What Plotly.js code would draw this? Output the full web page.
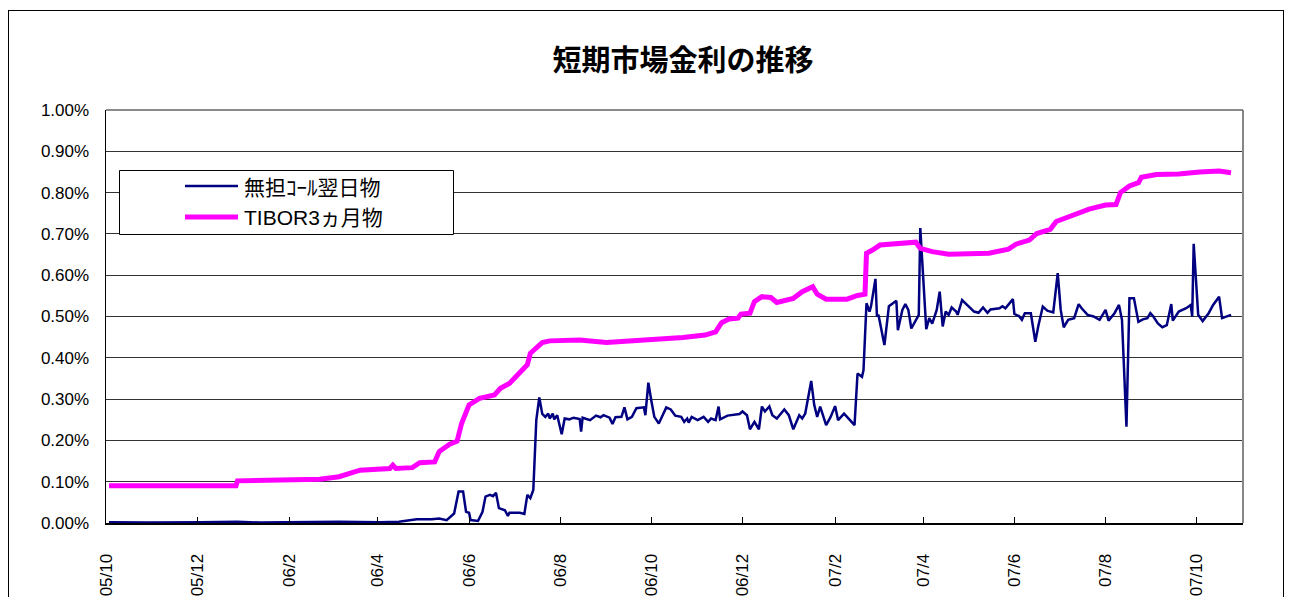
<!DOCTYPE html>
<html>
<head>
<meta charset="utf-8">
<script src="https://cdn.plot.ly/plotly-3.0.1.min.js"></script>
<style>
  html, body { margin: 0; padding: 0; background: #fff; overflow: hidden; }
  #chart { position: absolute; left: 0; top: 0; width: 1292px; height: 597px; }
  #frame { position: absolute; left: 8px; top: 10px; width: 1276px; height: 640px; border: 1px solid #000; pointer-events: none; box-sizing: border-box; }
</style>
</head>
<body>
<div id="chart"></div>
<div id="frame"></div>
<script>
const chartTitle = "短期市場金利の推移";
const seriesNames = ["無担ｺｰﾙ翌日物", "TIBOR3ヵ月物"];

const tickDates = ["2005-10-01","2005-12-01","2006-02-01","2006-04-01","2006-06-01","2006-08-01","2006-10-01","2006-12-01","2007-02-01","2007-04-01","2007-06-01","2007-08-01","2007-10-01"];
const tickLabels = ["05/10","05/12","06/2","06/4","06/6","06/8","06/10","06/12","07/2","07/4","07/6","07/8","07/10"];

const yTicks = [0,0.1,0.2,0.3,0.4,0.5,0.6,0.7,0.8,0.9,1.0];
const yTickLabels = ["0.00%","0.10%","0.20%","0.30%","0.40%","0.50%","0.60%","0.70%","0.80%","0.90%","1.00%"];

const tiborDates = ["2005-10-03","2005-12-27","2005-12-28","2006-01-25","2006-02-21","2006-03-06","2006-03-20","2006-04-09","2006-04-11","2006-04-13","2006-04-24","2006-04-29","2006-05-09","2006-05-12","2006-05-19","2006-05-24","2006-05-27","2006-06-01","2006-06-08","2006-06-18","2006-06-22","2006-06-28","2006-07-05","2006-07-10","2006-07-12","2006-07-16","2006-07-20","2006-07-25","2006-08-14","2006-09-01","2006-09-23","2006-10-15","2006-10-22","2006-11-06","2006-11-13","2006-11-17","2006-11-22","2006-11-28","2006-11-30","2006-12-06","2006-12-09","2006-12-14","2006-12-20","2006-12-24","2006-12-28","2007-01-04","2007-01-10","2007-01-17","2007-01-20","2007-01-26","2007-02-09","2007-02-16","2007-02-21","2007-02-22","2007-02-26","2007-03-03","2007-03-27","2007-03-30","2007-04-07","2007-04-18","2007-05-15","2007-05-28","2007-06-02","2007-06-11","2007-06-16","2007-06-25","2007-06-29","2007-07-10","2007-07-21","2007-08-01","2007-08-08","2007-08-11","2007-08-17","2007-08-23","2007-08-25","2007-09-04","2007-09-19","2007-10-03","2007-10-16","2007-10-24"];
const tiborValues = [0.090,0.090,0.102,0.104,0.106,0.112,0.128,0.132,0.140,0.132,0.134,0.146,0.148,0.173,0.191,0.198,0.241,0.286,0.302,0.310,0.326,0.338,0.362,0.383,0.411,0.423,0.437,0.441,0.443,0.437,0.441,0.445,0.449,0.455,0.463,0.485,0.494,0.496,0.506,0.508,0.536,0.548,0.546,0.534,0.538,0.544,0.560,0.572,0.554,0.542,0.542,0.551,0.554,0.653,0.661,0.673,0.680,0.665,0.657,0.651,0.653,0.663,0.675,0.685,0.701,0.711,0.730,0.746,0.760,0.770,0.771,0.800,0.816,0.824,0.837,0.844,0.845,0.850,0.852,0.848];

const callDates = ["2005-10-03","2005-10-30","2005-12-03","2005-12-28","2006-01-12","2006-02-07","2006-03-06","2006-04-02","2006-04-15","2006-04-27","2006-05-07","2006-05-12","2006-05-17","2006-05-22","2006-05-25","2006-05-28","2006-05-30","2006-06-01","2006-06-02","2006-06-07","2006-06-10","2006-06-12","2006-06-15","2006-06-17","2006-06-19","2006-06-21","2006-06-25","2006-06-27","2006-06-28","2006-07-05","2006-07-08","2006-07-10","2006-07-12","2006-07-14","2006-07-16","2006-07-18","2006-07-20","2006-07-22","2006-07-24","2006-07-25","2006-07-27","2006-07-28","2006-07-30","2006-08-02","2006-08-04","2006-08-07","2006-08-10","2006-08-14","2006-08-15","2006-08-16","2006-08-21","2006-08-25","2006-08-28","2006-08-30","2006-09-03","2006-09-05","2006-09-07","2006-09-11","2006-09-13","2006-09-15","2006-09-18","2006-09-21","2006-09-26","2006-09-27","2006-09-29","2006-10-01","2006-10-03","2006-10-06","2006-10-11","2006-10-14","2006-10-17","2006-10-21","2006-10-23","2006-10-25","2006-10-26","2006-10-28","2006-11-01","2006-11-05","2006-11-08","2006-11-10","2006-11-13","2006-11-15","2006-11-16","2006-11-21","2006-11-29","2006-12-01","2006-12-04","2006-12-06","2006-12-09","2006-12-12","2006-12-14","2006-12-16","2006-12-19","2006-12-21","2006-12-24","2006-12-29","2007-01-01","2007-01-04","2007-01-08","2007-01-10","2007-01-12","2007-01-16","2007-01-18","2007-01-20","2007-01-22","2007-01-26","2007-01-29","2007-02-01","2007-02-03","2007-02-07","2007-02-13","2007-02-14","2007-02-16","2007-02-19","2007-02-20","2007-02-22","2007-02-24","2007-02-25","2007-02-28","2007-03-01","2007-03-02","2007-03-06","2007-03-09","2007-03-14","2007-03-15","2007-03-18","2007-03-20","2007-03-22","2007-03-24","2007-03-27","2007-03-29","2007-03-30","2007-04-03","2007-04-05","2007-04-07","2007-04-10","2007-04-12","2007-04-14","2007-04-16","2007-04-18","2007-04-20","2007-04-23","2007-04-24","2007-04-27","2007-05-03","2007-05-05","2007-05-08","2007-05-11","2007-05-14","2007-05-16","2007-05-22","2007-05-24","2007-05-26","2007-05-31","2007-06-01","2007-06-04","2007-06-06","2007-06-08","2007-06-12","2007-06-15","2007-06-17","2007-06-20","2007-06-23","2007-06-27","2007-06-30","2007-07-02","2007-07-04","2007-07-07","2007-07-11","2007-07-14","2007-07-16","2007-07-20","2007-07-24","2007-07-28","2007-08-01","2007-08-03","2007-08-07","2007-08-10","2007-08-12","2007-08-15","2007-08-17","2007-08-20","2007-08-23","2007-08-26","2007-08-29","2007-08-31","2007-09-02","2007-09-05","2007-09-08","2007-09-11","2007-09-14","2007-09-15","2007-09-19","2007-09-24","2007-09-27","2007-09-28","2007-09-29","2007-10-02","2007-10-05","2007-10-09","2007-10-12","2007-10-16","2007-10-18","2007-10-22","2007-10-24"];
const callValues = [0.002,0.001,0.002,0.003,0.001,0.002,0.003,0.002,0.003,0.009,0.009,0.011,0.007,0.023,0.076,0.076,0.027,0.025,0.007,0.005,0.027,0.064,0.068,0.065,0.073,0.036,0.031,0.017,0.025,0.025,0.022,0.068,0.060,0.080,0.249,0.304,0.264,0.257,0.265,0.253,0.265,0.251,0.261,0.215,0.253,0.251,0.255,0.252,0.221,0.255,0.249,0.260,0.256,0.261,0.255,0.240,0.256,0.257,0.280,0.251,0.257,0.278,0.280,0.261,0.340,0.296,0.257,0.241,0.280,0.275,0.260,0.257,0.245,0.253,0.243,0.257,0.249,0.257,0.245,0.253,0.249,0.282,0.251,0.260,0.264,0.270,0.261,0.227,0.245,0.227,0.282,0.270,0.282,0.261,0.253,0.275,0.261,0.227,0.261,0.253,0.265,0.344,0.286,0.257,0.282,0.237,0.257,0.283,0.249,0.265,0.241,0.237,0.362,0.354,0.370,0.532,0.512,0.524,0.591,0.500,0.504,0.431,0.525,0.538,0.467,0.516,0.530,0.516,0.471,0.492,0.504,0.714,0.469,0.496,0.483,0.516,0.560,0.476,0.512,0.504,0.522,0.512,0.504,0.540,0.520,0.512,0.509,0.522,0.509,0.517,0.520,0.525,0.520,0.542,0.506,0.501,0.492,0.508,0.508,0.439,0.477,0.524,0.514,0.510,0.605,0.516,0.474,0.492,0.496,0.530,0.520,0.504,0.500,0.492,0.516,0.490,0.508,0.528,0.492,0.233,0.544,0.544,0.487,0.493,0.496,0.508,0.500,0.483,0.474,0.479,0.530,0.490,0.512,0.520,0.528,0.500,0.676,0.504,0.489,0.508,0.528,0.548,0.496,0.501,0.504];

const navy = "#000080";
const magenta = "#FF00FF";

// plot-area geometry (pixels)
const L = 106, T = 110, W = 1137, H = 413;
const fx = p => (p - L) / W;
const fy = p => (T + H - p) / H;

const txtFont = "Liberation Sans, Arial, Noto Sans CJK JP, sans-serif";
const jpFont = "Noto Sans CJK JP, Liberation Sans, sans-serif";

const traces = [
  { x: callDates, y: callValues, type: "scatter", mode: "lines", name: seriesNames[0],
    line: { color: navy, width: 2.5 }, showlegend: false },
  { x: tiborDates, y: tiborValues, type: "scatter", mode: "lines", name: seriesNames[1],
    line: { color: magenta, width: 5 }, showlegend: false }
];

const layout = {
  width: 1292, height: 597,
  margin: { l: L, r: 1292 - L - W, t: T, b: 597 - T - H, pad: 0 },
  paper_bgcolor: "rgba(0,0,0,0)",
  plot_bgcolor: "#fff",
  showlegend: false,
  title: { text: "<b>" + chartTitle + "</b>", font: { family: jpFont, size: 29, color: "#000" },
           x: (683 - L) / W, xref: "paper", xanchor: "center", y: 1 - 61 / 597, yanchor: "middle" },
  xaxis: {
    type: "date", range: ["2005-10-01", "2007-11-01"],
    tickmode: "array", tickvals: tickDates, ticktext: tickLabels,
    tickangle: -90, ticks: "inside", ticklen: 6, tickcolor: "#000", tickwidth: 1,
    tickfont: { family: txtFont, size: 17, color: "#000" },
    ticklabelstandoff: 22,
    showgrid: false, zeroline: false,
    showline: true, linecolor: "#000", linewidth: 2
  },
  yaxis: {
    range: [0, 1.0], tickmode: "array", tickvals: yTicks, ticktext: yTickLabels,
    tickfont: { family: txtFont, size: 17, color: "#000" },
    ticks: "", ticklabelstandoff: 12,
    showgrid: true, gridcolor: "#333", gridwidth: 1,
    zeroline: false, showline: true, linecolor: "#000", linewidth: 1.5
  },
  shapes: [
    { type: "line", xref: "paper", yref: "paper", x0: 1, x1: 1, y0: 0, y1: 1, line: { color: "#888", width: 2 } },
    { type: "line", xref: "paper", yref: "paper", x0: 0, x1: 1, y0: 1, y1: 1, line: { color: "#666", width: 1.5 } },
    { type: "rect", xref: "paper", yref: "paper", x0: fx(119.5), x1: fx(453.5), y0: fy(234.5), y1: fy(170.5),
      line: { color: "#000", width: 1 }, fillcolor: "#fff" },
    { type: "line", xref: "paper", yref: "paper", x0: fx(185), x1: fx(238), y0: fy(186), y1: fy(186),
      line: { color: navy, width: 2.5 } },
    { type: "line", xref: "paper", yref: "paper", x0: fx(185), x1: fx(238), y0: fy(217), y1: fy(217),
      line: { color: magenta, width: 5 } }
  ],
  annotations: [
    { xref: "paper", yref: "paper", x: fx(242), y: fy(186), xanchor: "left", yanchor: "middle",
      text: seriesNames[0], showarrow: false, font: { family: jpFont, size: 21, color: "#000" } },
    { xref: "paper", yref: "paper", x: fx(242), y: fy(217), xanchor: "left", yanchor: "middle",
      text: seriesNames[1], showarrow: false, font: { family: "Liberation Sans, Noto Sans CJK JP, sans-serif", size: 21, color: "#000" } }
  ]
};

Plotly.newPlot("chart", traces, layout, { displayModeBar: false, staticPlot: true });
</script>
</body>
</html>
